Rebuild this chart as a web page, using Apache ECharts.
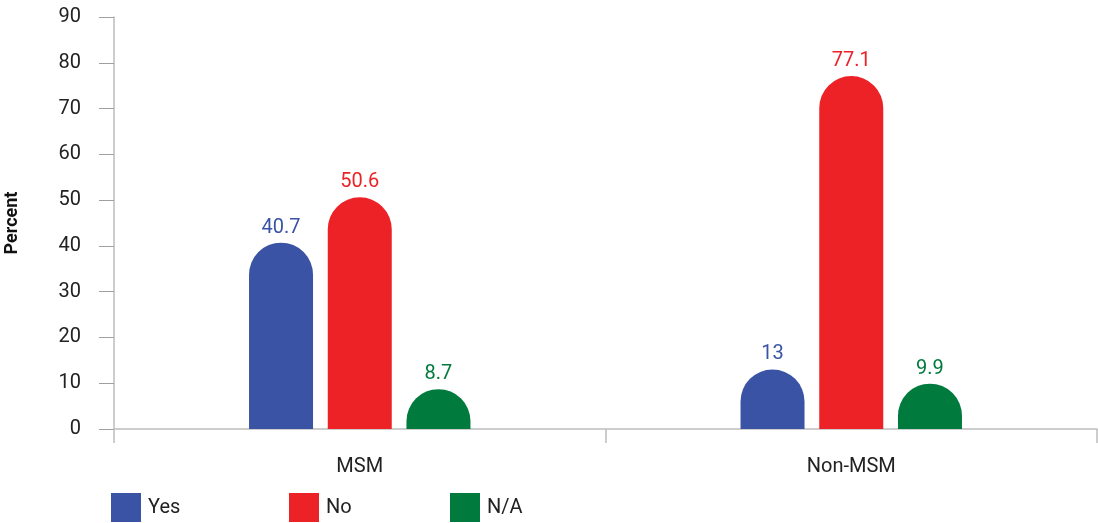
<!DOCTYPE html>
<html>
<head>
<meta charset="utf-8">
<script src="https://cdn.jsdelivr.net/npm/echarts@6/dist/echarts.min.js"></script>
<style>
  html, body { margin: 0; padding: 0; background: #fff; }
  #chart { width: 1098px; height: 523px; }
</style>
</head>
<body>
<div id="chart"></div>
<script>
// data
const categories = ["MSM", "Non-MSM"];
const yesValues = [40.7, 13];
const noValues = [50.6, 77.1];
const naValues = [8.7, 9.9];
const seriesNames = ["Yes", "No", "N/A"];
const colors = ["#3a53a4", "#ed2226", "#007a3d"];

const FONT = "Roboto, 'Liberation Sans', sans-serif";

const chart = echarts.init(document.getElementById("chart"));

const makeSeries = (name, data, color) => ({
  name: name,
  type: "bar",
  data: data,
  barWidth: 64,
  barGap: "23%",
  itemStyle: { color: color, borderRadius: [32, 32, 0, 0] },
  label: {
    show: true,
    position: "top",
    distance: 5,
    color: color,
    fontSize: 20,
    fontFamily: FONT
  }
});

// one legend per item so the spacing follows the picture
const legendLefts = [111, 289, 450];
const legends = seriesNames.map((n, i) => ({
  data: [n],
  left: legendLefts[i],
  bottom: 1,
  padding: 0,
  itemWidth: 30,
  itemHeight: 29,
  itemGap: 11,
  icon: "rect",
  textStyle: { fontSize: 20, color: "#222", fontFamily: FONT, padding: [5, 0, 0, 2] }
}));

const option = {
  animation: false,
  legend: legends,
  grid: { left: 114, right: 1, top: 17, bottom: 94, outerBoundsMode: "none" },
  xAxis: {
    type: "category",
    data: categories,
    axisLine: { lineStyle: { color: "#bdbdbd", width: 1.5 } },
    axisTick: { show: true, alignWithLabel: false, length: 14, lineStyle: { color: "#bdbdbd", width: 1.5 } },
    axisLabel: { fontSize: 20, color: "#222", fontFamily: FONT, margin: 28 }
  },
  yAxis: {
    type: "value",
    min: 0,
    max: 90,
    interval: 10,
    name: "Percent",
    nameLocation: "middle",
    nameGap: 93,
    nameTextStyle: { fontSize: 18, fontWeight: "bold", color: "#111", fontFamily: FONT },
    axisLine: { show: true, lineStyle: { color: "#bdbdbd", width: 1.5 } },
    axisTick: { show: true, length: 15, lineStyle: { color: "#a0a0a0" } },
    axisLabel: { fontSize: 20, color: "#222", fontFamily: FONT, margin: 33 },
    splitLine: { show: false }
  },
  series: [
    makeSeries(seriesNames[0], yesValues, colors[0]),
    makeSeries(seriesNames[1], noValues, colors[1]),
    makeSeries(seriesNames[2], naValues, colors[2])
  ]
};

chart.setOption(option);
</script>
</body>
</html>
